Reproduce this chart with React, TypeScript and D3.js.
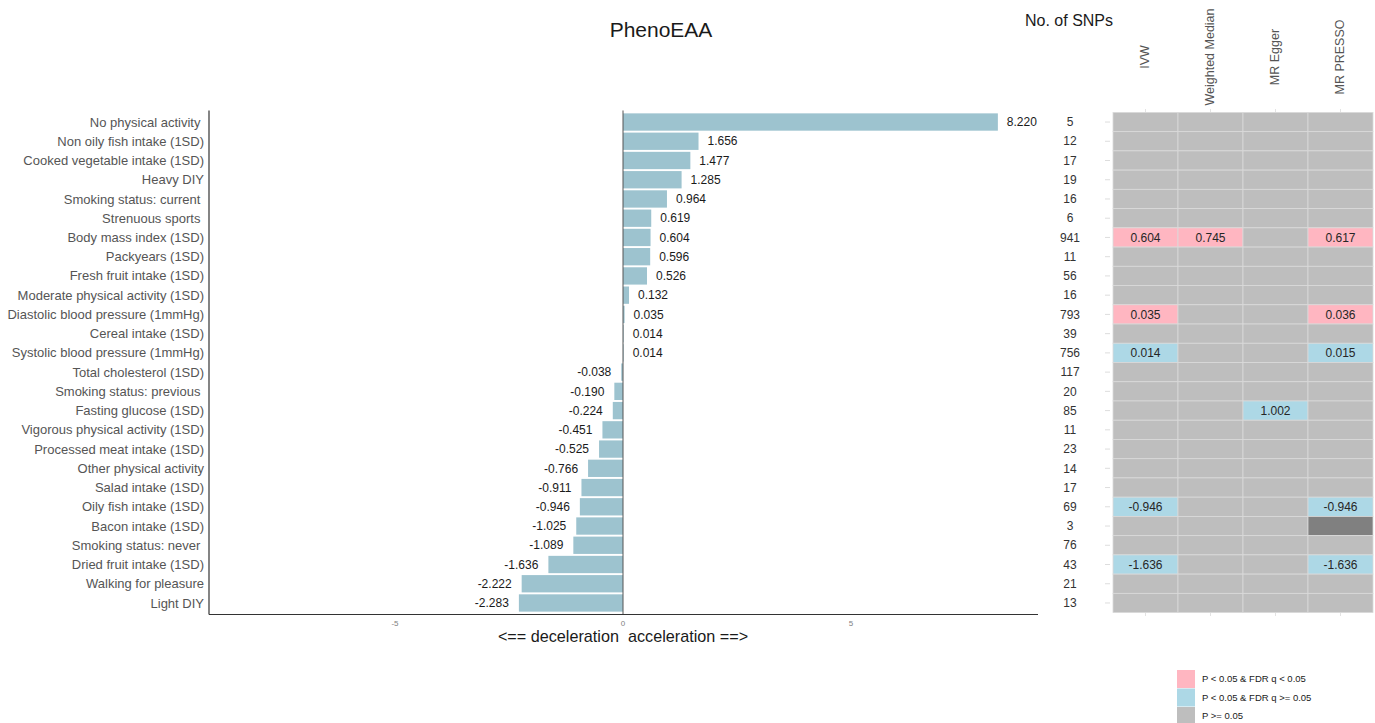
import React from "react";
import * as d3 from "d3";

const categories = [
  "No physical activity ",
  "Non oily fish intake (1SD)",
  "Cooked vegetable intake (1SD)",
  "Heavy DIY",
  "Smoking status: current ",
  "Strenuous sports ",
  "Body mass index (1SD)",
  "Packyears (1SD)",
  "Fresh fruit intake (1SD)",
  "Moderate physical activity (1SD)",
  "Diastolic blood pressure (1mmHg)",
  "Cereal intake (1SD)",
  "Systolic blood pressure (1mmHg)",
  "Total cholesterol (1SD)",
  "Smoking status: previous ",
  "Fasting glucose (1SD)",
  "Vigorous physical activity (1SD)",
  "Processed meat intake (1SD)",
  "Other physical activity",
  "Salad intake (1SD)",
  "Oily fish intake (1SD)",
  "Bacon intake (1SD)",
  "Smoking status: never ",
  "Dried fruit intake (1SD)",
  "Walking for pleasure",
  "Light DIY",
];

const effects = [
  8.22, 1.656, 1.477, 1.285, 0.964, 0.619, 0.604, 0.596, 0.526, 0.132, 0.035, 0.014, 0.014,
  -0.038, -0.19, -0.224, -0.451, -0.525, -0.766, -0.911, -0.946, -1.025, -1.089, -1.636,
  -2.222, -2.283,
];

const snps = [5, 12, 17, 19, 16, 6, 941, 11, 56, 16, 793, 39, 756, 117, 20, 85, 11, 23, 14, 17, 69, 3, 76, 43, 21, 13];

const methods = ["IVW", "Weighted Median", "MR Egger", "MR PRESSO"];

// status: "fdr" = P<0.05 & FDR q<0.05, "nom" = P<0.05 & FDR q>=0.05, "na" = missing; others are P>=0.05
const significantCells = [
  { row: "Body mass index (1SD)", method: "IVW", value: "0.604", status: "fdr" },
  { row: "Body mass index (1SD)", method: "Weighted Median", value: "0.745", status: "fdr" },
  { row: "Body mass index (1SD)", method: "MR PRESSO", value: "0.617", status: "fdr" },
  { row: "Diastolic blood pressure (1mmHg)", method: "IVW", value: "0.035", status: "fdr" },
  { row: "Diastolic blood pressure (1mmHg)", method: "MR PRESSO", value: "0.036", status: "fdr" },
  { row: "Systolic blood pressure (1mmHg)", method: "IVW", value: "0.014", status: "nom" },
  { row: "Systolic blood pressure (1mmHg)", method: "MR PRESSO", value: "0.015", status: "nom" },
  { row: "Fasting glucose (1SD)", method: "MR Egger", value: "1.002", status: "nom" },
  { row: "Oily fish intake (1SD)", method: "IVW", value: "-0.946", status: "nom" },
  { row: "Oily fish intake (1SD)", method: "MR PRESSO", value: "-0.946", status: "nom" },
  { row: "Bacon intake (1SD)", method: "MR PRESSO", value: "", status: "na" },
  { row: "Dried fruit intake (1SD)", method: "IVW", value: "-1.636", status: "nom" },
  { row: "Dried fruit intake (1SD)", method: "MR PRESSO", value: "-1.636", status: "nom" },
];

const legendItems = [
  { status: "fdr", label: "P < 0.05 & FDR q < 0.05" },
  { status: "nom", label: "P < 0.05 & FDR q >= 0.05" },
  { status: "ns", label: "P >= 0.05" },
];

const xTicks = [-5, 0, 5];

const statusColor: Record<string, string> = {
  fdr: "#FFB6C1",
  nom: "#ADD8E6",
  ns: "#BEBEBE",
  na: "#808080",
};

const FONT = "'Liberation Sans', Arial, Helvetica, sans-serif";

export default function App() {
  const W = 1375;
  const H = 723;
  const x = d3.scaleLinear().domain([-9.1, 9.1]).range([208, 1038]);
  const y = d3.scaleBand<string>().domain(categories).range([112.4, 612.6]).padding(0);
  const step = y.step();
  const hx = d3.scaleBand<string>().domain(methods).range([1113, 1373]).padding(0);

  const cellMap = new Map<string, { value: string; status: string }>();
  significantCells.forEach((c) => cellMap.set(c.row + "|" + c.method, c));

  const axisTop = y(categories[0])! - step * 0.1;
  const axisBottom = y(categories[categories.length - 1])! + step * 1.1;

  return (
    <svg
      width={W}
      height={H}
      style={{ position: "absolute", left: 0, top: 0, background: "#fff", fontFamily: FONT }}
    >
      {/* Title */}
      <text x={661} y={37} textAnchor="middle" fontSize={21} fill="#1a1a1a">
        PhenoEAA
      </text>

      {/* Bars */}
      {categories.map((c, i) => {
        const v = effects[i];
        const x0 = x(Math.min(0, v));
        const x1 = x(Math.max(0, v));
        return (
          <rect
            key={"bar" + i}
            x={x0}
            y={y(c)! + step * 0.05}
            width={Math.max(0.5, x1 - x0)}
            height={step * 0.9}
            fill="#9DC3CF"
          />
        );
      })}

      {/* Value labels */}
      {categories.map((c, i) => {
        const v = effects[i];
        const pos = v >= 0;
        return (
          <text
            key={"vl" + i}
            x={pos ? x(v) + 9 : x(v) - 10}
            y={y(c)! + step / 2}
            dy="0.35em"
            textAnchor={pos ? "start" : "end"}
            fontSize={12}
            fill="#1a1a1a"
          >
            {v.toFixed(3)}
          </text>
        );
      })}

      {/* Zero line */}
      <line x1={x(0)} x2={x(0)} y1={axisTop} y2={axisBottom} stroke="#555" strokeWidth={1} />

      {/* Axes */}
      <line x1={x.range()[0] + 1} x2={x.range()[0] + 1} y1={axisTop} y2={axisBottom} stroke="#333" strokeWidth={1.2} />
      <line x1={x.range()[0] + 1} x2={x.range()[1]} y1={axisBottom} y2={axisBottom} stroke="#333" strokeWidth={1.2} />

      {/* Category labels */}
      {categories.map((c) => (
        <text
          key={"cl" + c}
          x={204}
          y={y(c)! + step / 2}
          dy="0.35em"
          textAnchor="end"
          fontSize={13}
          fill="#555"
          style={{ whiteSpace: "pre" }}
        >
          {c}
        </text>
      ))}

      {/* X ticks */}
      {xTicks.map((t) => (
        <text key={"xt" + t} x={x(t)} y={axisBottom + 11} textAnchor="middle" fontSize={8} fill="#7f7f7f">
          {t}
        </text>
      ))}
      <text x={x(0)} y={642} textAnchor="middle" fontSize={16.2} fill="#1a1a1a" style={{ whiteSpace: "pre" }}>
        {"<== deceleration  acceleration ==>"}
      </text>

      {/* No. of SNPs */}
      <text x={1025} y={26} fontSize={16} fill="#1a1a1a">
        No. of SNPs
      </text>
      {categories.map((c, i) => (
        <text
          key={"snp" + i}
          x={1070}
          y={y(c)! + step / 2}
          dy="0.35em"
          textAnchor="middle"
          fontSize={12}
          fill="#333"
        >
          {snps[i]}
        </text>
      ))}

      {/* Heatmap ticks */}
      {categories.map((c, i) => (
        <line
          key={"ht" + i}
          x1={1105}
          x2={1110}
          y1={y(c)! + step / 2}
          y2={y(c)! + step / 2}
          stroke="#dddddd"
          strokeWidth={1}
        />
      ))}
      {methods.map((m) => (
        <g key={"mt" + m}>
          <line x1={hx(m)! + hx.bandwidth() / 2} x2={hx(m)! + hx.bandwidth() / 2} y1={109} y2={112.4} stroke="#e3e3e3" />
          <line x1={hx(m)! + hx.bandwidth() / 2} x2={hx(m)! + hx.bandwidth() / 2} y1={612.6} y2={616} stroke="#e3e3e3" />
        </g>
      ))}

      {/* Heatmap cells */}
      {categories.map((c) =>
        methods.map((m) => {
          const cell = cellMap.get(c + "|" + m);
          const status = cell ? cell.status : "ns";
          return (
            <rect
              key={"hc" + c + m}
              x={hx(m)!}
              y={y(c)!}
              width={hx.bandwidth()}
              height={step}
              fill={statusColor[status]}
              stroke="#dadada"
              strokeWidth={0.8}
            />
          );
        })
      )}
      {significantCells
        .filter((c) => c.value !== "")
        .map((c, i) => (
          <text
            key={"hv" + i}
            x={hx(c.method)! + hx.bandwidth() / 2}
            y={y(c.row)! + step / 2}
            dy="0.35em"
            textAnchor="middle"
            fontSize={12}
            fill="#262626"
          >
            {c.value}
          </text>
        ))}

      {/* Method headers */}
      {methods.map((m) => (
        <text
          key={"mh" + m}
          transform={`translate(${hx(m)! + hx.bandwidth() / 2 - 1},57) rotate(-90)`}
          textAnchor="middle"
          dy="0.35em"
          fontSize={12.5}
          fill="#555"
        >
          {m}
        </text>
      ))}

      {/* Legend */}
      {legendItems.map((l, i) => (
        <g key={"lg" + i} transform={`translate(1177,${670 + i * 18.5})`}>
          <rect width={18} height={18} fill={statusColor[l.status]} />
          <text x={25} y={9} dy="0.35em" fontSize={9.5} fill="#1a1a1a">
            {l.label}
          </text>
        </g>
      ))}
    </svg>
  );
}
